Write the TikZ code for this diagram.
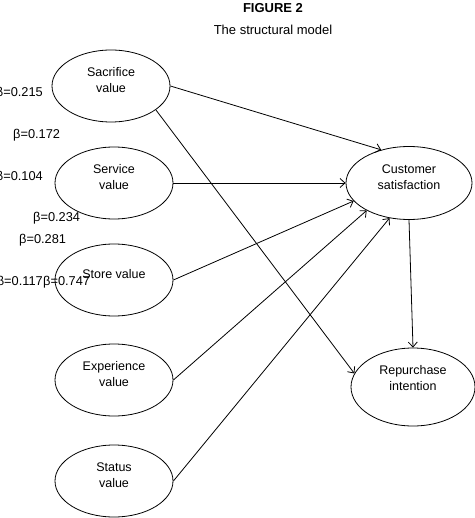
\documentclass[tikz,border=0pt]{standalone}
\usepackage{fontspec}
\setmainfont{Liberation Sans}
\usepackage{tikz}
\usetikzlibrary{arrows.meta,positioning,shapes.geometric}

\begin{document}
\begin{tikzpicture}[
  x=1pt, y=-1pt,
  var/.style={draw, ellipse, line width=0.8pt, minimum width=118pt, minimum height=72pt, inner sep=0pt},
  vtxt/.style={align=center, yshift=6pt, inner sep=0pt, font=\fontsize{12.5}{15.7}\selectfont},
  arr/.style={-{Straight Barb[length=5pt,width=9pt]}, line width=0.8pt},
  lab/.style={font=\fontsize{13}{15}\selectfont},
  coef/.style={inner sep=0pt, font=\fontsize{12.8}{14}\selectfont}
]
\useasboundingbox (0,0) rectangle (474,518);

% Title
\node[lab, font=\fontsize{13}{15}\selectfont\bfseries] (fig) at (273,8) {FIGURE 2};
\node[lab] (cap) at (273,30) {The structural model};

% Value constructs
\node[var, label={[vtxt]center:Sacrifice\\value}] (sac) at (111,86) {};
\node[var, label={[vtxt]center:Service\\value}] (serv) at (114,183) {};
\node[var, label={[vtxt]center:Store value}] (store) at (114,280) {};
\node[var, label={[vtxt]center:Experience\\value}] (exp) at (114,380) {};
\node[var, label={[vtxt]center:Status\\value}] (stat) at (114,481) {};

% Outcomes
\node[var, minimum width=126pt, minimum height=73pt, label={[vtxt]center:Customer\\satisfaction}] (cs) at (409,183) {};
\node[var, minimum width=124pt, minimum height=78pt, label={[vtxt, yshift=3pt]center:Repurchase\\intention}] (rep) at (413,387) {};

% Paths
\draw[arr] (sac.east) -- (cs.130);
\draw[arr] (sac.-28) -- (rep.167);
\draw[arr] (serv.east) -- (cs.west);
\draw[arr] (store.east) -- (cs.198);
\draw[arr] (exp.east) -- (cs.213);
\draw[arr] (stat.east) -- (cs.241);
\draw[arr] (cs.south) -- (rep.north);

% Coefficients
\node[coef, anchor=east] (b1) at (43,93) {β=0.215};
\node[coef, anchor=west] (b2) at (13,135) {β=0.172};
\node[coef, anchor=east] (b3) at (43,177) {β=0.104};
\node[coef, anchor=west] (b4) at (33,218) {β=0.234};
\node[coef, anchor=west] (b5) at (19,240) {β=0.281};
\node[coef, anchor=east] (b6) at (43,282) {β=0.117};
\node[coef, anchor=west] (b7) at (43,282) {β=0.747};
\end{tikzpicture}
\end{document}
